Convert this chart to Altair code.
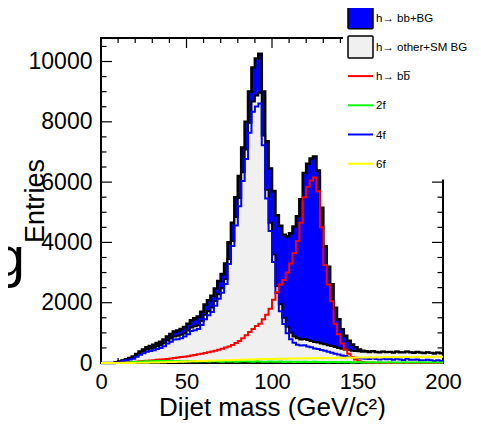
import altair as alt
import pandas as pd

FONT = "Liberation Sans"

# ---- histogram data: 100 bins of 2 GeV, values per bin (left edge 0,2,...,198)
bin_lo = list(range(0, 200, 2))

sig_hbb = [0, 0, 0, 0, 0, 5, 10, 15, 25, 35,
           45, 55, 65, 75, 85, 95, 105, 115, 125, 135,
           150, 165, 180, 195, 210, 225, 245, 265, 290, 310,
           335, 360, 385, 410, 440, 470, 510, 550, 600, 660,
           730, 820, 920, 1030, 1130, 1230, 1300, 1450, 1600, 1800,
           2100, 2350, 2600, 2750, 3000, 3300, 3650, 4050, 4650, 5500,
           5850, 6050, 6150, 5700, 4500, 3250, 2600, 2050, 1300, 950,
           650, 450, 310, 200, 120, 60, 35, 20, 10, 5,
           0, 0, 0, 0, 0, 0, 0, 0, 0, 0,
           0, 0, 0, 0, 0, 0, 0, 0, 0, 0]

bg_other_sm = [0, 0, 0, 0, 15, 40, 75, 110, 140, 180,
               255, 325, 385, 445, 475, 505, 555, 585, 655, 745,
               810, 875, 900, 935, 980, 1075, 1175, 1215, 1250, 1390,
               1600, 1720, 1840, 2060, 2280, 2480, 2790, 3450, 4050, 4840,
               5470, 6330, 7080, 7970, 8670, 8870, 8960, 7550, 5750, 4650,
               3600, 2550, 1950, 1500, 1200, 1000, 880, 820, 780, 800,
               760, 730, 700, 680, 650, 620, 590, 560, 530, 500,
               470, 450, 430, 410, 400, 390, 370, 370, 360, 385,
               360, 350, 375, 355, 365, 340, 370, 350, 345, 375,
               350, 335, 360, 340, 325, 350, 330, 310, 340, 315]

bg_4f = [0, 0, 0, 0, 10, 35, 65, 95, 115, 145,
         205, 270, 320, 375, 395, 425, 465, 500, 555, 650,
         705, 780, 785, 825, 875, 955, 1060, 1090, 1130, 1260,
         1450, 1580, 1690, 1900, 2130, 2330, 2620, 3280, 3880, 4560,
         5200, 6035, 6765, 7640, 8335, 8510, 8610, 7225, 5460, 4375,
         3350, 2320, 1720, 1290, 990, 785, 675, 605, 580, 585,
         545, 525, 480, 465, 435, 405, 375, 340, 310, 280,
         250, 230, 200, 195, 175, 155, 150, 140, 130, 155,
         130, 120, 145, 125, 130, 105, 145, 115, 100, 145,
         110, 105, 120, 90, 90, 105, 95, 65, 95, 70]

bg_2f = [0, 0, 0, 0, 0, 0, 5, 10, 20, 30,
         40, 45, 50, 55, 60, 60, 65, 55, 70, 60,
         65, 55, 70, 60, 50, 65, 55, 60, 50, 55,
         60, 50, 55, 65, 50, 45, 60, 50, 55, 45,
         50, 55, 60, 50, 45, 55, 50, 45, 40, 50,
         45, 40, 50, 35, 40, 45, 35, 40, 30, 40,
         35, 30, 40, 30, 35, 30, 25, 35, 30, 25,
         30, 25, 30, 20, 25, 30, 20, 25, 20, 25,
         20, 25, 20, 15, 25, 20, 15, 20, 25, 15,
         20, 15, 20, 25, 15, 20, 15, 20, 15, 20]

bg_6f = [0, 0, 0, 0, 0, 0, 0, 0, 0, 0,
         5, 5, 10, 10, 15, 15, 20, 25, 25, 30,
         35, 35, 40, 45, 50, 50, 55, 60, 65, 65,
         70, 75, 80, 80, 85, 90, 95, 95, 100, 105,
         110, 110, 115, 120, 120, 125, 125, 130, 130, 135,
         135, 140, 140, 145, 145, 150, 150, 155, 150, 155,
         160, 155, 160, 165, 160, 165, 170, 165, 170, 175,
         170, 175, 180, 175, 180, 185, 180, 185, 190, 185,
         190, 185, 190, 195, 190, 195, 190, 195, 200, 195,
         200, 195, 200, 205, 200, 205, 200, 205, 210, 205]

# ---- axis ticks and texts
x_major = [0, 50, 100, 150, 200]
x_minor = [10, 20, 30, 40, 60, 70, 80, 90, 110, 120, 130, 140, 160, 170, 180, 190]
y_major = [0, 2000, 4000, 6000, 8000, 10000]
y_minor = [500, 1000, 1500, 2500, 3000, 3500, 4500, 5000, 5500, 6500, 7000, 7500,
           8500, 9000, 9500, 10500]
x_title = "Dijet mass (GeV/c²)"
y_title = "Entries"
legend_labels = ["h→ bb+BG", "h→ other+SM BG", "h→ bb\u0305", "2f", "4f", "6f"]
cut_glyph = ["g"]

W, H = 342, 325
Y_MAX = 10780

# step data: repeat last bin value at the upper edge
edges = bin_lo + [200]
def ext(a):
    return list(a) + [a[-1]]

df = pd.DataFrame({
    "x": edges,
    "sig": ext(sig_hbb),
    "bg": ext(bg_other_sm),
    "f4": ext(bg_4f),
    "f2": ext(bg_2f),
    "f6": ext(bg_6f),
})
df["total"] = df["sig"] + df["bg"]

xs = alt.Scale(domain=[0, 200], nice=False, zero=False)
ys = alt.Scale(domain=[0, Y_MAX], nice=False)

x_axis = alt.Axis(values=x_major, format="d", labelFont=FONT, labelFontSize=22,
                  labelColor="black", labelPadding=8, labelOverlap=False, labelFlush=False,
                  ticks=False, domain=False, grid=False,
                  title=x_title, titleFont=FONT, titleFontSize=26, titleFontWeight="normal",
                  titleColor="black", titleX=W / 2, titleY=52, titleAlign="center",
                  titleBaseline="alphabetic")
y_axis = alt.Axis(values=y_major, format="d", labelFont=FONT, labelFontSize=23,
                  labelColor="black", labelPadding=9, labelOverlap=False, labelFlush=False,
                  ticks=False, domain=False, grid=False,
                  title=y_title, titleFont=FONT, titleFontSize=27, titleFontWeight="normal",
                  titleColor="black", titleAngle=270, titleX=-58, titleY=H / 2,
                  titleAlign="center", titleBaseline="alphabetic")

def X(field):
    return alt.X(field, scale=xs, axis=x_axis)

def Y(field):
    return alt.Y(field, scale=ys, axis=y_axis)

def area(field, color):
    return alt.Chart(df).mark_area(interpolate="step-after", color=color, opacity=1).encode(
        x=X("x:Q"), y=Y(f"{field}:Q"))

def line(field, color, w):
    return alt.Chart(df).mark_line(interpolate="step-after", color=color, strokeWidth=w).encode(
        x=X("x:Q"), y=Y(f"{field}:Q"))

def xticks(vals, length):
    d = pd.DataFrame({"v": vals})
    b = alt.Chart(d).mark_rule(color="black", strokeWidth=1.2).encode(
        x=X("v:Q"), y=alt.value(H), y2=alt.value(H - length))
    t = alt.Chart(d).mark_rule(color="black", strokeWidth=1.2).encode(
        x=X("v:Q"), y=alt.value(0), y2=alt.value(length))
    return [b, t]

def yticks(vals, length):
    d = pd.DataFrame({"v": vals})
    l = alt.Chart(d).mark_rule(color="black", strokeWidth=1.2).encode(
        y=Y("v:Q"), x=alt.value(0), x2=alt.value(length))
    r = alt.Chart(d).mark_rule(color="black", strokeWidth=1.2).encode(
        y=Y("v:Q"), x=alt.value(W), x2=alt.value(W - length))
    return [l, r]

one = pd.DataFrame({"k": [0]})
frame = alt.Chart(one).mark_rect(fillOpacity=0, stroke="black", strokeWidth=2).encode(
    x=alt.value(0), x2=alt.value(W), y=alt.value(0), y2=alt.value(H))

# ---- legend (drawn on top, white background)
leg_bg = alt.Chart(one).mark_rect(color="white").encode(
    x=alt.value(242), x2=alt.value(W + 45), y=alt.value(-32), y2=alt.value(141.5))
row_y = [-20.3 + 29.2 * i for i in range(6)]
sx0, sx1, tx = 247, 272, 275
legend_layers = [leg_bg]
box_fill = ["#0000ff", "#f0f0f0"]
line_col = ["#ff0000", "#00ff00", "#0000ff", "#ffff00"]
for i, lab in enumerate(legend_labels):
    yc = row_y[i]
    if i < 2:
        legend_layers.append(alt.Chart(one).mark_rect(
            fill=box_fill[i], stroke="black", strokeWidth=1.5, cornerRadius=1).encode(
            x=alt.value(sx0), x2=alt.value(sx1), y=alt.value(yc - 11), y2=alt.value(yc + 11)))
    else:
        legend_layers.append(alt.Chart(one).mark_rule(
            color=line_col[i - 2], strokeWidth=2).encode(
            x=alt.value(sx0), x2=alt.value(sx1), y=alt.value(yc)))
    legend_layers.append(alt.Chart(pd.DataFrame({"t": [lab]})).mark_text(
        font=FONT, fontSize=11.5, align="left", baseline="middle", color="black").encode(
        text="t:N", x=alt.value(tx), y=alt.value(yc + 1)))

glyph = alt.Chart(pd.DataFrame({"t": cut_glyph})).mark_text(
    font=FONT, fontSize=56, align="right", baseline="alphabetic", color="black").encode(
    text="t:N", x=alt.value(-76), y=alt.value(238))

layers = (
    [area("total", "#0000ff")]
    + xticks(x_major, 10) + xticks(x_minor, 5) + yticks(y_major, 11) + yticks(y_minor, 5.5)
    + [
        line("total", "black", 2.6),
        area("bg", "#f0f0f0"),
        line("bg", "black", 2),
        frame,
        line("f4", "#0000ff", 2),
        line("sig", "#ff0000", 2),
        line("f2", "#00ff00", 2),
        line("f6", "#ffff00", 2),
    ]
    + legend_layers
    + [glyph]
)

chart = alt.layer(*layers).properties(
    width=W, height=H,
    padding={"left": 93, "top": 30, "right": 30, "bottom": 57},
    autosize=alt.AutoSizeParams(type="none"),
).configure_view(strokeWidth=0)

chart.save("out.html", embed_options={"renderer": "svg", "actions": False})
